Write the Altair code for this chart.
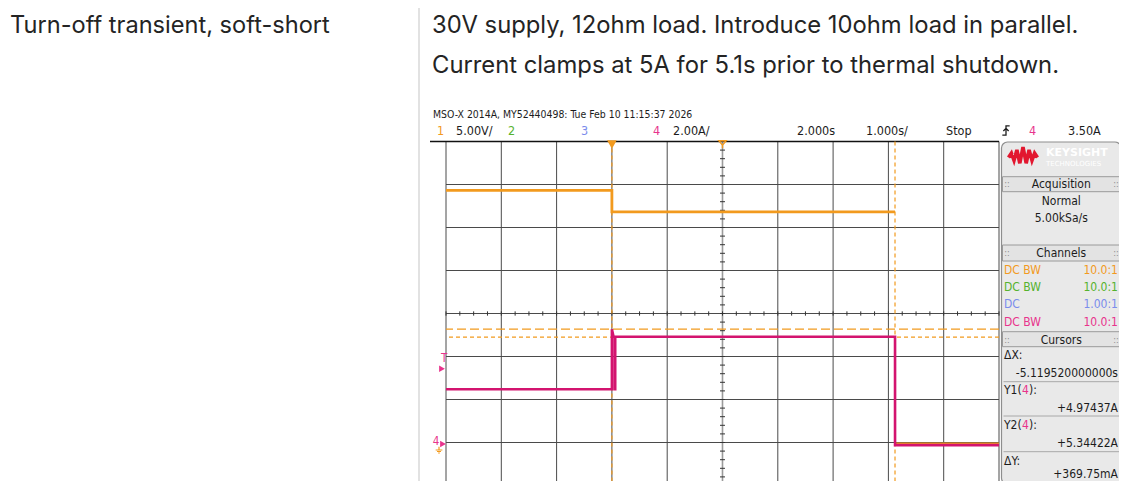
import altair as alt
import pandas as pd
import numpy as np

# ---------------- data ----------------
ch1_t = [-3.0, 0.0, 0.0, 5.12, 5.12, 7.0]            # s
ch1_volts = [29.5, 29.5, 27.0, 27.0, 0.0, 0.0]       # V
ch1_seg = [0, 0, 0, 0, 1, 1]
ch4_t = [-3.0, 0.0, 0.0, 0.03, 0.05, 0.05, 0.06, 0.06, 5.12, 5.12, 7.0]
ch4_amps = [2.55, 2.55, 5.34, 4.99, 4.99, 2.55, 2.55, 4.99, 4.99, -0.05, -0.05]
cursor_x = [0.0, 5.11952]
cursor_y_amps = [4.97437, 5.34422]
trigger_level = [3.50]
ch1_per_div = 5.0
ch4_per_div = 2.0
ground_div = -3.035
grid_t = list(range(-3, 8))
grid_div = list(range(-4, 5))

header = "MSO-X 2014A, MY52440498: Tue Feb 10 11:15:37 2026"
row_title = "Turn-off transient, soft-short"
desc = ["30V supply, 12ohm load. Introduce 10ohm load in parallel.",
        "Current clamps at 5A for 5.1s prior to thermal shutdown."]

# ---------------- styles ----------------
INK = "#242424"
SINK = "#1c1c1c"
ORANGE = "#f29a1e"
GREEN = "#55b22e"
BLUE = "#7b8cec"
PINK = "#e8338c"
TPINK = "#d3146f"
GRID = "#4a4a4a"
PAGE_FONT = "Inter"
SCOPE_FONT = "DejaVu Sans Condensed, Liberation Sans, sans-serif"

P0X, P0Y = 446, 141.5          # page position of plot area origin
W, H = 553, 344

xs = alt.Scale(domain=[-3, 7], nice=False, zero=False)
ys = alt.Scale(domain=[-4, 4], nice=False, zero=False)
DUMMY = pd.DataFrame({"k": [0]})


def X(f="t:Q"):
    return alt.X(f, scale=xs, axis=None)


def Y(f="div:Q"):
    return alt.Y(f, scale=ys, axis=None)


def txt(s, px, py, color=SINK, size=12, align="left", font=SCOPE_FONT,
        weight="normal", baseline="middle"):
    return alt.Chart(DUMMY).mark_text(
        text=s, align=align, baseline=baseline, font=font, fontSize=size,
        fontWeight=weight, color=color
    ).encode(x=alt.value(px - P0X), y=alt.value(py - P0Y))


def hline(x1, x2, py, color, width=1, dash=None):
    kw = dict(color=color, strokeWidth=width)
    if dash:
        kw["strokeDash"] = dash
    return alt.Chart(DUMMY).mark_rule(**kw).encode(
        x=alt.value(x1 - P0X), x2=alt.value(x2 - P0X), y=alt.value(py - P0Y))


def vline(px, y1, y2, color, width=1):
    return alt.Chart(DUMMY).mark_rule(color=color, strokeWidth=width).encode(
        x=alt.value(px - P0X), y=alt.value(y1 - P0Y), y2=alt.value(y2 - P0Y))


layers = []

# ---------------- page text ----------------
layers.append(vline(419, 0, 489, "#e2e2e2", 2))
layers.append(txt(row_title, 10, 33, INK, 23.6, font=PAGE_FONT, baseline="alphabetic"))
layers.append(txt(desc[0], 432, 33, INK, 23.8, font=PAGE_FONT, baseline="alphabetic"))
layers.append(txt(desc[1], 432, 73, INK, 23.8, font=PAGE_FONT, baseline="alphabetic"))

# ---------------- scope header ----------------
layers.append(txt(header, 433, 114.5, SINK, 10.4))
for s, x, c in [("1", 437, ORANGE), ("5.00V/", 456, SINK), ("2", 508, GREEN),
                ("3", 581, BLUE), ("4", 653, PINK), ("2.00A/", 673, SINK),
                ("2.000s", 797, SINK), ("1.000s/", 866, SINK), ("Stop", 946, SINK),
                ("4", 1029, PINK), ("3.50A", 1068, SINK)]:
    layers.append(txt(s, x, 130.5, c, 12.5))
layers.append(alt.Chart(DUMMY).mark_point(
    shape="M-0.7,0.9 L0,0.9 L0,-0.9 L0.7,-0.9 M-0.5,0.1 L0,-0.4 L0.5,0.1",
    filled=False, color=SINK, size=110, strokeWidth=1.3, opacity=1
).encode(x=alt.value(1006 - P0X), y=alt.value(130.5 - P0Y)))

# ---------------- grid ----------------
gt = pd.DataFrame({"t": grid_t})
gd = pd.DataFrame({"div": grid_div})
layers.append(alt.Chart(gt).mark_rule(color=GRID, strokeWidth=1).encode(x=X()))
layers.append(alt.Chart(gd).mark_rule(color=GRID, strokeWidth=1).encode(y=Y()))
layers.append(alt.Chart(pd.DataFrame({"t": [2]})).mark_rule(color="#9a9a9a", strokeWidth=1.6).encode(x=X()))
# frame extensions
layers.append(hline(430, 999, 141.5, "#111111", 1.5))
layers.append(hline(430, 999, 485.5, "#111111", 1.5))

# minor ticks on centre axes
mt = pd.DataFrame({"t": np.round(np.arange(-3, 7.001, 0.25), 2)})
layers.append(alt.Chart(mt).mark_rule(color="#333333", strokeWidth=1).encode(
    x=X(), y=alt.Y(datum=-0.05, scale=ys, axis=None), y2=alt.Y2(datum=0.05)))
md = pd.DataFrame({"div": np.round(np.arange(-4, 4.001, 0.2), 2)})
layers.append(alt.Chart(md).mark_rule(color="#333333", strokeWidth=1).encode(
    y=Y(), x=alt.X(datum=1.955, scale=xs, axis=None), x2=alt.X2(datum=2.045)))

# ---------------- cursors ----------------
cx = pd.DataFrame({"t": cursor_x})
layers.append(alt.Chart(cx).mark_rule(color=ORANGE, strokeWidth=1.2, strokeDash=[4, 3]).encode(x=X()))
cy = pd.DataFrame({"a": cursor_y_amps, "dash": ["short", "long"]})
cyb = alt.Chart(cy).transform_calculate(div=f"datum.a/{ch4_per_div} + {ground_div}")
layers.append(cyb.transform_filter("datum.dash == 'long'").mark_rule(
    color=ORANGE, strokeWidth=1.2, strokeDash=[9, 4]).encode(y=Y()))
layers.append(cyb.transform_filter("datum.dash == 'short'").mark_rule(
    color=ORANGE, strokeWidth=1.2, strokeDash=[4, 3]).encode(y=Y()))

# ---------------- traces ----------------
d1 = pd.DataFrame({"t": ch1_t, "v": ch1_volts, "seg": ch1_seg, "i": range(len(ch1_t))})
layers.append(alt.Chart(d1).transform_calculate(div=f"datum.v/{ch1_per_div} + {ground_div}")
              .mark_line(color=ORANGE, strokeWidth=2.8)
              .encode(x=X(), y=Y(), detail="seg:N", order="i:Q"))
d4 = pd.DataFrame({"t": ch4_t, "a": ch4_amps, "i": range(len(ch4_t))})
layers.append(alt.Chart(d4).transform_calculate(div=f"datum.a/{ch4_per_div} + {ground_div}")
              .mark_line(color=TPINK, strokeWidth=2.6).encode(x=X(), y=Y(), order="i:Q"))

# ---------------- markers ----------------
layers.append(alt.Chart(pd.DataFrame({"t": [0.0]})).mark_point(
    shape="triangle-down", filled=True, color=ORANGE, size=95, opacity=1, yOffset=3
).encode(x=X(), y=alt.value(0)))
layers.append(alt.Chart(pd.DataFrame({"t": [2.0]})).mark_point(
    shape="M-1,-1 L1,-1 L0,0.2 Z M0,0.2 L0,1", filled=False, color=ORANGE,
    size=55, strokeWidth=1.4, opacity=1, yOffset=3
).encode(x=X(), y=alt.value(0)))
tl = pd.DataFrame({"a": trigger_level})
layers.append(alt.Chart(tl).transform_calculate(div=f"datum.a/{ch4_per_div} + {ground_div}")
              .mark_point(shape="triangle-right", filled=True, color=PINK, size=45, opacity=1)
              .encode(x=alt.value(442 - P0X), y=Y()))
layers.append(txt("T", 441, 359, PINK, 11.5))
layers.append(alt.Chart(pd.DataFrame({"a": [0.0]})).transform_calculate(div=f"datum.a/{ch4_per_div} + {ground_div}")
              .mark_point(shape="triangle-right", filled=True, color=PINK, size=45, opacity=1)
              .encode(x=alt.value(443 - P0X), y=Y()))
layers.append(txt("4", 436, 442, PINK, 11.5, align="center"))
layers.append(alt.Chart(DUMMY).mark_point(
    shape="M0,-1 L0,0 M-1,0 L1,0 M-0.6,0.45 L0.6,0.45 M-0.25,0.9 L0.25,0.9",
    filled=False, color=ORANGE, size=45, strokeWidth=1.2, opacity=1
).encode(x=alt.value(439 - P0X), y=alt.value(450 - P0Y)))

# ---------------- right info panel ----------------
PX1, PX2 = 1001.5, 1121
layers.append(alt.Chart(DUMMY).mark_rect(
    fill="#e9e9e9", stroke="#8e8e8e", strokeWidth=1.2, cornerRadius=6
).encode(x=alt.value(PX1 - P0X), x2=alt.value(PX2 - P0X),
         y=alt.value(142 - P0Y), y2=alt.value(484 - P0Y)))
for y1, y2 in [(176.7, 191.7), (245, 261), (331.7, 346.7)]:
    layers.append(alt.Chart(DUMMY).mark_rect(fill="#e3e3e3", stroke="#9a9a9a", strokeWidth=1).encode(
        x=alt.value(PX1 + 1 - P0X), x2=alt.value(PX2 - 1 - P0X),
        y=alt.value(y1 - P0Y), y2=alt.value(y2 - P0Y)))
for yy in [381.7, 416, 451.7]:
    layers.append(hline(PX1 + 2, PX2 - 2, yy, "#a8a8a8", 1))
# logo
layers.append(alt.Chart(DUMMY).mark_point(
    shape="M-1,0.1 L-0.8,-0.2 L-0.62,0.3 L-0.42,-0.42 L-0.22,0.5 L0,-0.62 L0.22,0.5 L0.42,-0.42 L0.62,0.3 L0.8,-0.2 L1,0.1",
    filled=False, color="#e2172f", size=840, strokeWidth=3.6, opacity=1
).encode(x=alt.value(1023 - P0X), y=alt.value(156 - P0Y)))
layers.append(txt("KEYSIGHT", 1046, 153, "#ffffff", 11, weight="bold", font="DejaVu Sans"))
layers.append(txt("TECHNOLOGIES", 1046, 164, "#ffffff", 7, font="DejaVu Sans"))
CX = (PX1 + PX2) / 2
for s, yy in [("Acquisition", 184), ("Normal", 200.7), ("5.00kSa/s", 217.7),
              ("Channels", 253), ("Cursors", 339.5)]:
    layers.append(txt(s, CX, yy, SINK, 12, align="center"))
for yy in [184, 253, 339.5]:
    layers.append(txt("::", 1007, yy, "#8a8a8a", 9, align="center"))
    layers.append(txt("::", 1116, yy, "#8a8a8a", 9, align="center"))
for s, r, c, yy in [("DC BW", "10.0:1", ORANGE, 270), ("DC BW", "10.0:1", GREEN, 286.7),
                    ("DC", "1.00:1", BLUE, 304), ("DC BW", "10.0:1", PINK, 321.5)]:
    layers.append(txt(s, 1004, yy, c, 12))
    layers.append(txt(r, 1118, yy, c, 12, align="right"))
layers.append(txt("ΔX:", 1004, 355, SINK, 12))
layers.append(txt("-5.119520000000s", 1118, 373, SINK, 12, align="right"))
for lab, yy in [("Y1", 390), ("Y2", 425)]:
    layers.append(txt(lab + "(", 1004, yy, SINK, 12))
    layers.append(txt("4", 1022, yy, PINK, 12))
    layers.append(txt("):", 1029, yy, SINK, 12))
layers.append(txt("+4.97437A", 1118, 407.7, SINK, 12, align="right"))
layers.append(txt("+5.34422A", 1118, 443, SINK, 12, align="right"))
layers.append(txt("ΔY:", 1004, 460.5, SINK, 12))
layers.append(txt("+369.75mA", 1118, 473.5, SINK, 12, align="right"))

chart = alt.layer(*layers).properties(
    width=W, height=H,
    padding={"left": P0X - 8, "top": P0Y - 8, "right": 1111 - (P0X - 8) - W, "bottom": -5},
    autosize=alt.AutoSizeParams(type="none"),
    background="white",
).configure_view(stroke=None)

chart.save("out.html", embed_options={"renderer": "svg", "actions": False})
